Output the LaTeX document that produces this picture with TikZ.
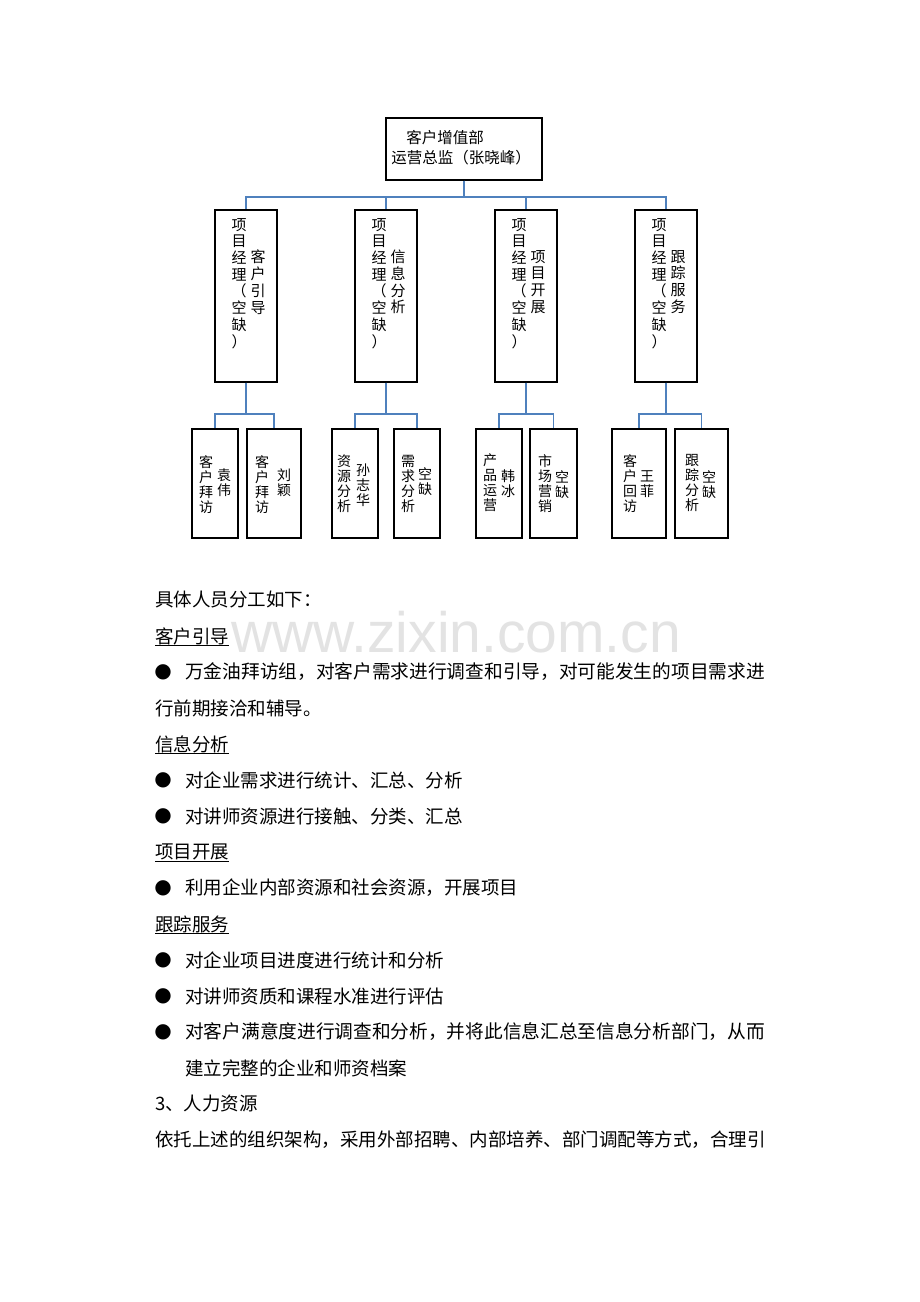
\documentclass[tikz,border=0pt]{standalone}
\usepackage{fontspec}
\newfontfamily\cjk{Noto Sans CJK SC}
\newfontfamily\wmfont{Liberation Sans}
\newfontfamily\dvfont{DejaVu Sans}
\newcommand\myfs[2]{\fontsize{#1}{#2}\selectfont}
\definecolor{conncol}{RGB}{79,129,189}
\begin{document}
\begin{tikzpicture}[x=1pt,y=-1pt,
  conn/.style={draw=conncol, line width=1.8pt},
  boxs/.style={draw=black, line width=1.3pt, inner sep=0},
  vtxt/.style={align=center, inner sep=0, anchor=north, font=\cjk\myfs{15}{16.7}},
  stxt/.style={align=center, inner sep=0, anchor=north, font=\cjk\myfs{14}{15}},
  body/.style={anchor=west, inner sep=0, font=\cjk\myfs{18.5}{20}},
  bodyj/.style={anchor=west, inner sep=0, font=\cjk\myfs{18.7}{20}},
  bul/.style={anchor=center, inner sep=0, font=\dvfont\myfs{20}{20}},
  uline/.style={line width=0.8pt},
  wmark/.style={anchor=base west, inner sep=0, text=black!11, font=\wmfont\myfs{57}{57}}]
\useasboundingbox (0,0) rectangle (920,1302);
\fill[white] (0,0) rectangle (920,1302);

% watermark
\node[wmark] (wm) at (231,652) {www.zixin.com.cn};

% top box
\node[boxs, minimum width=156pt, minimum height=62pt] (top) at (464,149) {};
\node[inner sep=0, font=\cjk\myfs{15.5}{20}] (top1) at (445,138) {客户增值部};
\node[inner sep=0, font=\cjk\myfs{15.5}{20}] (top2) at (461,158) {运营总监（张晓峰）};

% manager boxes
\node[boxs, minimum width=62pt, minimum height=172pt] (m1) at (246,296) {};
\node[boxs, minimum width=62pt, minimum height=172pt] (m2) at (386,296) {};
\node[boxs, minimum width=62pt, minimum height=172pt] (m3) at (526,296) {};
\node[boxs, minimum width=62pt, minimum height=172pt] (m4) at (666,296) {};
\node[vtxt] (m1a) at (239,218) {项\\目\\经\\理\\（\\空\\缺\\）};
\node[vtxt] (m1b) at (258,250) {客\\户\\引\\导};
\node[vtxt] (m2a) at (379,218) {项\\目\\经\\理\\（\\空\\缺\\）};
\node[vtxt] (m2b) at (398,250) {信\\息\\分\\析};
\node[vtxt] (m3a) at (519,218) {项\\目\\经\\理\\（\\空\\缺\\）};
\node[vtxt] (m3b) at (538,250) {项\\目\\开\\展};
\node[vtxt] (m4a) at (659,218) {项\\目\\经\\理\\（\\空\\缺\\）};
\node[vtxt] (m4b) at (678,250) {跟\\踪\\服\\务};

% sub boxes
\node[boxs, minimum width=46pt, minimum height=109pt] (s1a) at (215,483.5) {};
\node[boxs, minimum width=54pt, minimum height=109pt] (s1b) at (274,483.5) {};
\node[boxs, minimum width=46pt, minimum height=109pt] (s2a) at (355,483.5) {};
\node[boxs, minimum width=46pt, minimum height=109pt] (s2b) at (417,483.5) {};
\node[boxs, minimum width=46pt, minimum height=109pt] (s3a) at (499,483.5) {};
\node[boxs, minimum width=47pt, minimum height=109pt] (s3b) at (553.5,483.5) {};
\node[boxs, minimum width=54pt, minimum height=109pt] (s4a) at (639,483.5) {};
\node[boxs, minimum width=53pt, minimum height=109pt] (s4b) at (701.5,483.5) {};

\node[stxt] (t1a1) at (206,455) {客\\户\\拜\\访};
\node[stxt] (t1a2) at (224,469) {袁\\伟};
\node[stxt] (t1b1) at (262,455) {客\\户\\拜\\访};
\node[stxt] (t1b2) at (284,469) {刘\\颖};
\node[stxt] (t2a1) at (344,455) {资\\源\\分\\析};
\node[stxt] (t2a2) at (363,464) {孙\\志\\华};
\node[stxt] (t2b1) at (408,455) {需\\求\\分\\析};
\node[stxt] (t2b2) at (425,467) {空\\缺};
\node[stxt] (t3a1) at (490,454) {产\\品\\运\\营};
\node[stxt] (t3a2) at (508,470) {韩\\冰};
\node[stxt] (t3b1) at (545,454) {市\\场\\营\\销};
\node[stxt] (t3b2) at (562,470) {空\\缺};
\node[stxt] (t4a1) at (630,454) {客\\户\\回\\访};
\node[stxt] (t4a2) at (647,470) {王\\菲};
\node[stxt] (t4b1) at (692,454) {跟\\踪\\分\\析};
\node[stxt] (t4b2) at (709,470) {空\\缺};

% connectors
\foreach \m in {m1,m2,m3,m4} \draw[conn] (top.south) -- ++(0,16) -| (\m.north);
\draw[conn] (m1.south) -- ++(0,31) -| (s1a.north);
\draw[conn] (m1.south) -- ++(0,31) -| (s1b.north);
\draw[conn] (m2.south) -- ++(0,31) -| (s2a.north);
\draw[conn] (m2.south) -- ++(0,31) -| (s2b.north);
\draw[conn] (m3.south) -- ++(0,31) -| (s3a.north);
\draw[conn] (m3.south) -- ++(0,31) -| (s3b.north);
\draw[conn] (m4.south) -- ++(0,31) -| (s4a.north);
\draw[conn] (m4.south) -- ++(0,31) -| (s4b.north);

% body text
\node[body] (l1) at (155,600) {具体人员分工如下：};
\node[body] (h1) at (155,636) {客户引导};
\draw[uline] ([yshift=-1pt]h1.south west) -- ([yshift=-1pt]h1.south east);
\node[bul] (b1) at (163,672) {●};
\node[bodyj] (l3) at (185,672) {万金油拜访组，对客户需求进行调查和引导，对可能发生的项目需求进};
\node[body] (l4) at (155,708) {行前期接洽和辅导。};
\node[body] (h2) at (155,744) {信息分析};
\draw[uline] ([yshift=-1pt]h2.south west) -- ([yshift=-1pt]h2.south east);
\node[bul] (b2) at (163,780) {●};
\node[body] (l6) at (185,780) {对企业需求进行统计、汇总、分析};
\node[bul] (b3) at (163,816) {●};
\node[body] (l7) at (185,816) {对讲师资源进行接触、分类、汇总};
\node[body] (h3) at (155,852) {项目开展};
\draw[uline] ([yshift=-1pt]h3.south west) -- ([yshift=-1pt]h3.south east);
\node[bul] (b4) at (163,888) {●};
\node[body] (l9) at (185,888) {利用企业内部资源和社会资源，开展项目};
\node[body] (h4) at (155,924) {跟踪服务};
\draw[uline] ([yshift=-1pt]h4.south west) -- ([yshift=-1pt]h4.south east);
\node[bul] (b5) at (163,960) {●};
\node[body] (l11) at (185,960) {对企业项目进度进行统计和分析};
\node[bul] (b6) at (163,996) {●};
\node[body] (l12) at (185,996) {对讲师资质和课程水准进行评估};
\node[bul] (b7) at (163,1032) {●};
\node[bodyj] (l13) at (185,1032) {对客户满意度进行调查和分析，并将此信息汇总至信息分析部门，从而};
\node[body] (l14) at (185,1068) {建立完整的企业和师资档案};
\node[body] (l15) at (155,1104) {3、人力资源};
\node[body] (l16) at (155,1140) {依托上述的组织架构，采用外部招聘、内部培养、部门调配等方式，合理引};
\end{tikzpicture}
\end{document}
